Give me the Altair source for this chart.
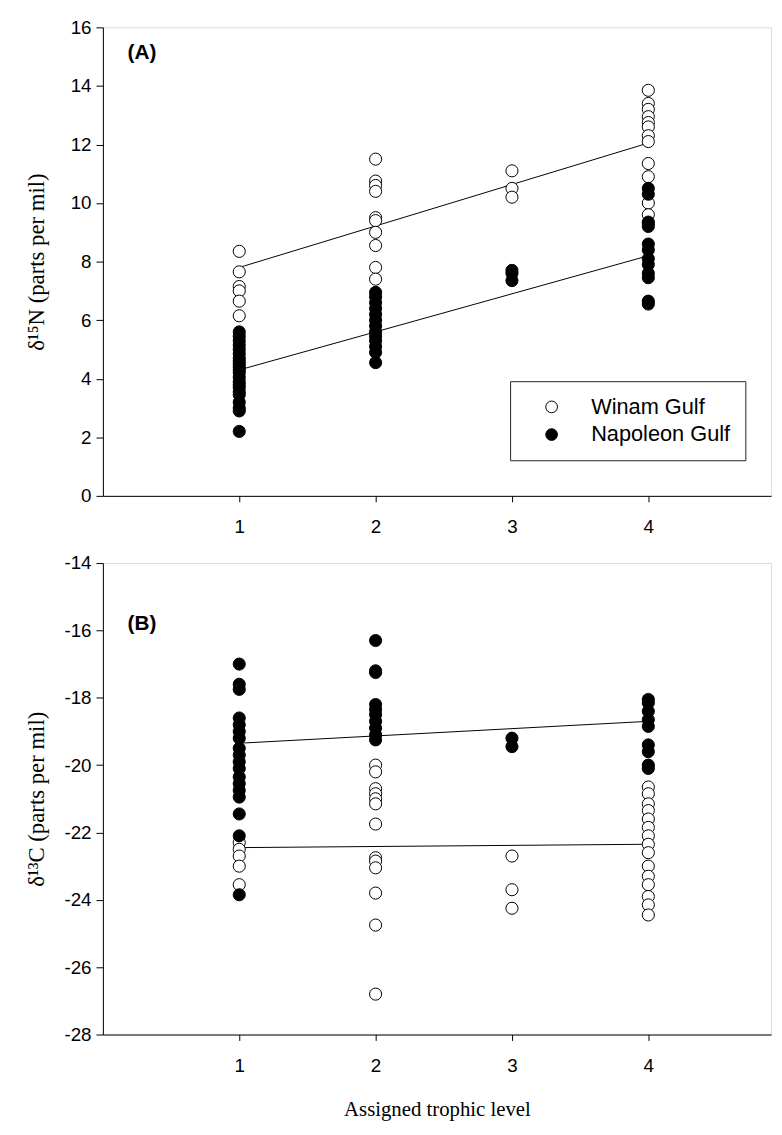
import altair as alt
import pandas as pd

# ---------------- data ----------------
series_names = ["Winam Gulf", "Napoleon Gulf"]
levels = [1, 2, 3, 4]

# Panel A: d15N
A_winam = {
    1: [8.35, 7.65, 7.15, 7.0, 6.65, 6.15],
    2: [11.5, 10.75, 10.6, 10.4, 9.5, 9.4, 9.0, 8.55, 7.8, 7.4],
    3: [11.1, 10.5, 10.2],
    4: [13.85, 13.4, 13.2, 12.95, 12.75, 12.6, 12.3, 12.1, 11.35, 10.9, 10.0, 9.6, 9.3],
}
A_napoleon = {
    1: [5.6, 5.45, 5.3, 5.15, 5.0, 4.85, 4.7, 4.6, 4.5, 4.4, 4.3, 4.2, 4.05, 3.9, 3.8,
        3.7, 3.55, 3.45, 3.2, 3.0, 2.9, 2.2],
    2: [6.95, 6.8, 6.6, 6.4, 6.2, 6.0, 5.8, 5.6, 5.45, 5.3, 5.1, 4.9, 4.55],
    3: [7.7, 7.6, 7.35],
    4: [10.5, 10.3, 9.35, 9.2, 8.6, 8.4, 8.1, 7.9, 7.6, 7.45, 6.65, 6.55],
}
# Panel B: d13C
B_winam = {
    1: [-22.3, -22.5, -22.7, -23.0, -23.55],
    2: [-20.0, -20.2, -20.7, -20.85, -21.0, -21.15, -21.75, -22.75, -22.85, -23.05,
        -23.8, -24.75, -26.8],
    3: [-22.7, -23.7, -24.25],
    4: [-20.65, -20.85, -21.15, -21.35, -21.6, -21.85, -22.1, -22.35, -22.6, -23.0,
        -23.3, -23.55, -23.9, -24.15, -24.45],
}
B_napoleon = {
    1: [-17.0, -17.6, -17.75, -18.6, -18.8, -19.0, -19.2, -19.5, -19.7, -19.9, -20.1,
        -20.35, -20.55, -20.75, -20.95, -21.45, -22.1, -23.85],
    2: [-16.3, -17.2, -17.25, -18.2, -18.35, -18.5, -18.7, -18.9, -19.1, -19.25],
    3: [-19.2, -19.45],
    4: [-18.05, -18.15, -18.4, -18.65, -18.85, -19.4, -19.6, -20.0, -20.1],
}

# fitted regression lines (end values)
fit_x = [1, 4]
A_winam_fit = [7.8, 12.05]
A_napoleon_fit = [4.3, 8.2]
B_winam_fit = [-22.45, -22.35]
B_napoleon_fit = [-19.35, -18.7]

A_ticks = list(range(0, 17, 2))
B_ticks = list(range(-28, -13, 2))


def points_df(winam, napoleon):
    rows = []
    for name, d in ((series_names[0], winam), (series_names[1], napoleon)):
        for lvl, vals in d.items():
            for v in vals:
                rows.append({"level": lvl, "value": v, "site": name})
    return pd.DataFrame(rows)


def fit_df(w, n):
    rows = []
    for name, vals in ((series_names[0], w), (series_names[1], n)):
        for x, y in zip(fit_x, vals):
            rows.append({"level": x, "value": y, "site": name})
    return pd.DataFrame(rows)


W = 676
HA = 474
HB = 477
SANS = "Liberation Sans"
SERIF = "Liberation Serif"

x_scale = alt.Scale(domain=[0, 4.9], nice=False, zero=False)


def panel(winam, napoleon, wf, nf, ydom, yticks, ytitle, label, label_y, height,
          show_legend, xtitle, title_pad):
    pts = points_df(winam, napoleon)
    fits = fit_df(wf, nf)
    y_scale = alt.Scale(domain=ydom, nice=False, zero=False)
    xaxis_kwargs = dict(values=levels, grid=False, domainColor="black", tickColor="black",
                        tickSize=6, labelPadding=16, labelFontSize=19, labelFont=SANS,
                        labelColor="black", labelExpr="'' + datum.value")
    if xtitle:
        xaxis = alt.Axis(title=xtitle, titleFont=SERIF, titleFontSize=21,
                         titleFontWeight="normal", titleColor="black", titlePadding=24,
                         **xaxis_kwargs)
    else:
        xaxis = alt.Axis(title=None, **xaxis_kwargs)
    yaxis = alt.Axis(title=ytitle, values=yticks, grid=False, domainColor="black",
                     tickColor="black", tickSize=7, labelPadding=5, labelFontSize=19,
                     labelFont=SANS, labelColor="black", labelExpr="'' + datum.value",
                     titleFont=SERIF, titleFontSize=23, titleFontWeight="normal",
                     titleColor="black", titlePadding=title_pad)
    if show_legend:
        legend = alt.Legend(title=None, orient="none", legendX=412, legendY=358,
                            direction="vertical", fillColor="white", strokeColor="#222222",
                            padding=15, symbolOffset=16,
                            labelOffset=29, labelFontSize=22, labelFont=SANS,
                            labelColor="black", symbolSize=140, symbolStrokeColor="black",
                            symbolStrokeWidth=1, symbolType="circle")
    else:
        legend = None
    fill = alt.Fill("site:N", scale=alt.Scale(domain=series_names, range=["white", "black"]),
                    legend=legend, sort=series_names)

    points = alt.Chart(pts).mark_point(shape="circle", filled=True, size=150, stroke="black",
                                       strokeWidth=1, opacity=1).encode(
        x=alt.X("level:Q", scale=x_scale, axis=xaxis),
        y=alt.Y("value:Q", scale=y_scale, axis=yaxis),
        fill=fill,
    )
    lines = alt.Chart(fits).mark_line(color="black", strokeWidth=1).encode(
        x=alt.X("level:Q", scale=x_scale),
        y=alt.Y("value:Q", scale=y_scale),
        detail="site:N",
    )
    txt = alt.Chart(pd.DataFrame({"t": [label]})).mark_text(
        font=SANS, fontSize=21, fontWeight="bold", align="left", baseline="middle",
        color="black").encode(text="t:N", x=alt.value(25), y=alt.value(label_y))
    return alt.layer(lines, points, txt).properties(width=W, height=height)


pA = panel(A_winam, A_napoleon, A_winam_fit, A_napoleon_fit, [0, 16], A_ticks,
           "\u03b4\u00b9\u2075N (parts per mil)", "(A)", 26, HA, True, None, 22)
pB = panel(B_winam, B_napoleon, B_winam_fit, B_napoleon_fit, [-28, -14], B_ticks,
           "\u03b4\u00b9\u00b3C (parts per mil)", "(B)", 62, HB, False,
           "Assigned trophic level", 16)

chart = alt.vconcat(pA, pB, spacing=68, bounds="flush").resolve_scale(
    fill="independent").resolve_legend(fill="independent").properties(
    padding={"left": 17, "top": 3, "right": 2, "bottom": 2}
).configure_view(stroke="black", strokeWidth=1).configure(background="white").configure_legend(
    rowPadding=6, strokeWidth=1
)

chart.save("out.html", embed_options={"renderer": "svg", "actions": False})
